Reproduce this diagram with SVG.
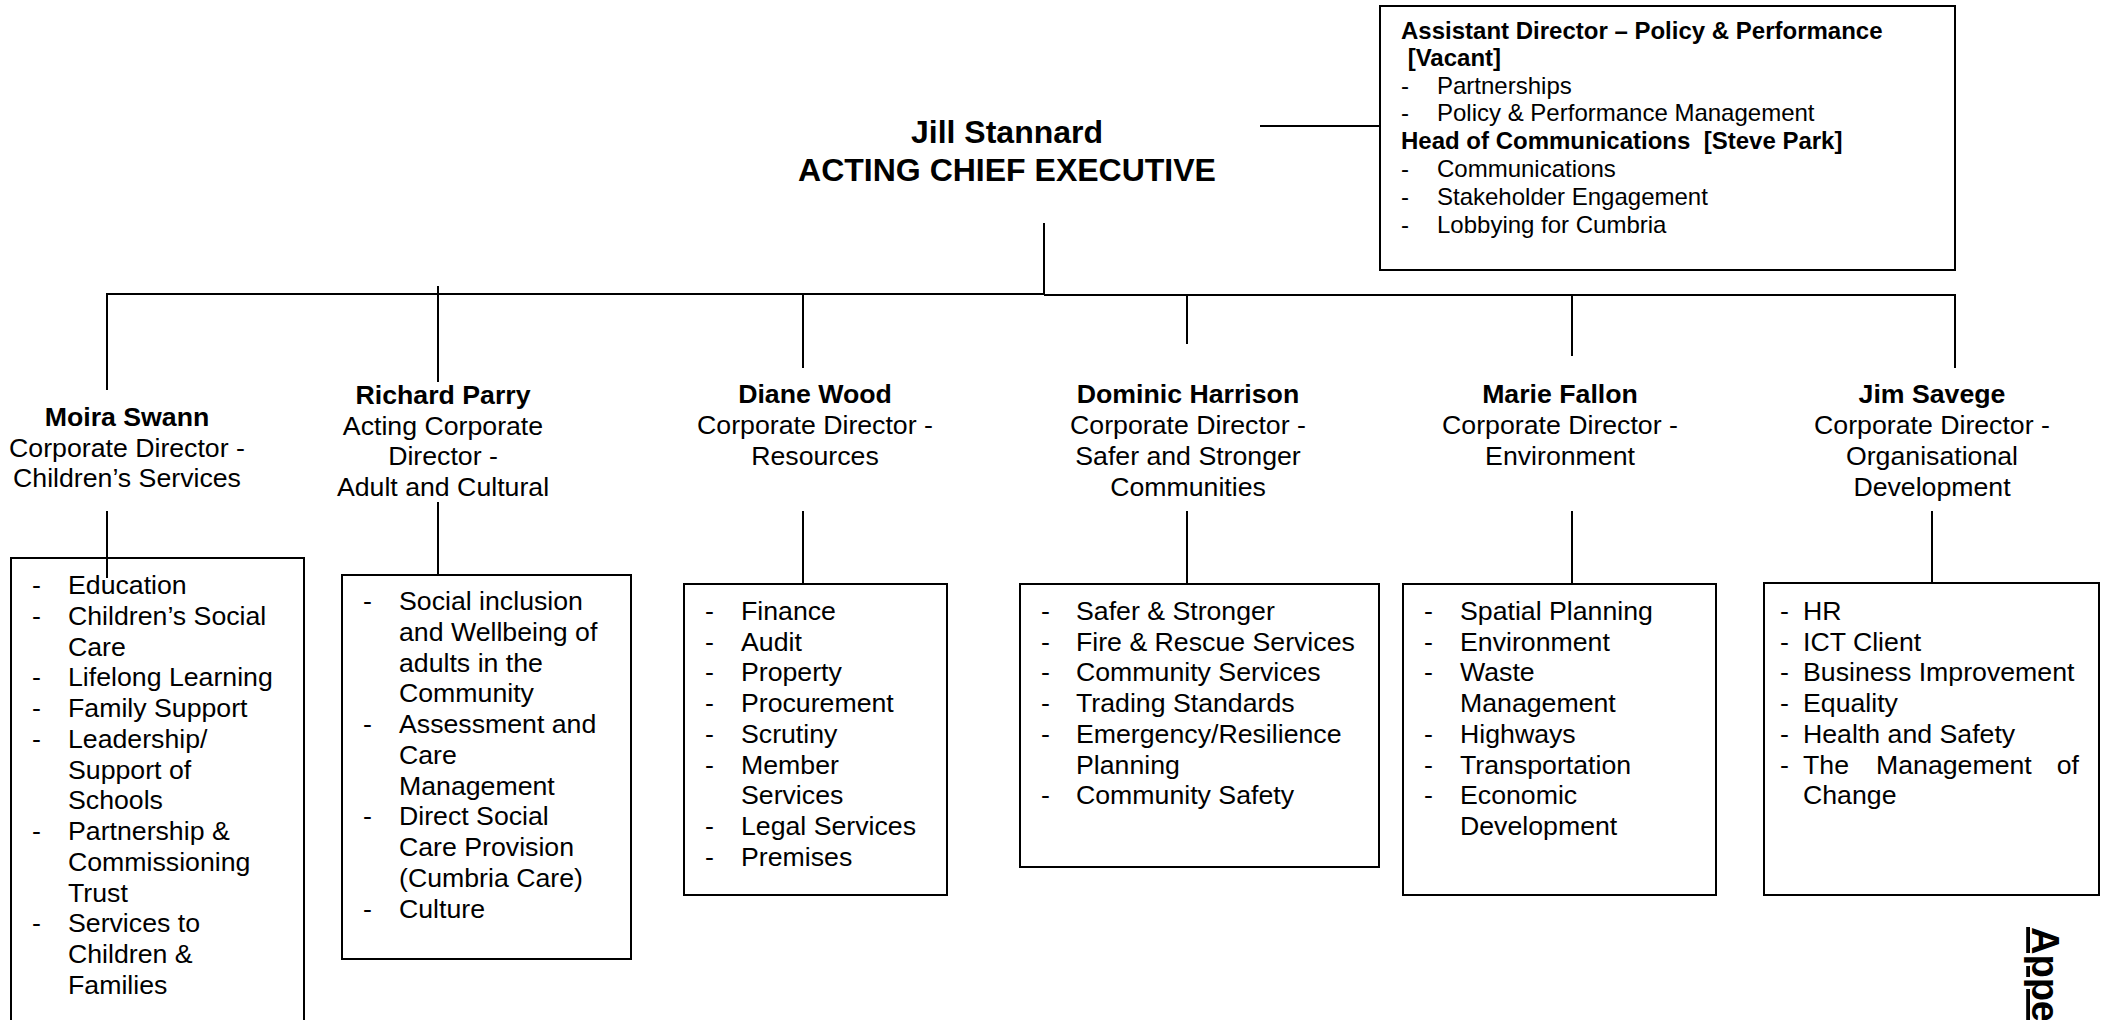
<svg xmlns="http://www.w3.org/2000/svg" width="2110" height="1020" viewBox="0 0 2110 1020">
  <style>
    .t { font-family: "Liberation Sans", Arial, sans-serif; font-size: 26.7px; fill: #000; }
    .b { font-weight: bold; }
    .ttl { font-family: "Liberation Sans", Arial, sans-serif; font-size: 32px; font-weight: bold; fill: #000; }
    .s { font-family: "Liberation Sans", Arial, sans-serif; font-size: 24px; fill: #000; white-space: pre; }
    .c { text-anchor: middle; }
    .box { fill: #fff; stroke: #000; stroke-width: 2; }
    .ln { stroke: #000; stroke-width: 2; fill: none; }
  </style>

  <rect width="2110" height="1020" fill="#fff"/>

  <!-- Chief executive -->
  <g id="chief-executive">
    <text class="ttl c" x="1007" y="143">Jill Stannard</text>
    <text class="ttl c" x="1007" y="181">ACTING CHIEF EXECUTIVE</text>
  </g>

  <!-- Policy, performance and communications support -->
  <g id="policy-performance">
    <rect class="box" x="1380" y="6" width="575" height="264"/>
    <text class="s b" x="1401" y="38.5">Assistant Director – Policy &amp; Performance</text>
    <text class="s b" x="1401" y="66"> [Vacant]</text>
    <text class="s" x="1401" y="93.5">-</text><text class="s" x="1437" y="93.5">Partnerships</text>
    <text class="s" x="1401" y="121">-</text><text class="s" x="1437" y="121">Policy &amp; Performance Management</text>
    <text class="s b" x="1401" y="148.5">Head of Communications  [Steve Park]</text>
    <text class="s" x="1401" y="176.5">-</text><text class="s" x="1437" y="176.5">Communications</text>
    <text class="s" x="1401" y="204.5">-</text><text class="s" x="1437" y="204.5">Stakeholder Engagement</text>
    <text class="s" x="1401" y="232.5">-</text><text class="s" x="1437" y="232.5">Lobbying for Cumbria</text>
  </g>

  <!-- Children's Services -->
  <g id="childrens-services">
    <text class="t b c" x="127" y="426">Moira Swann</text>
    <text class="t c" x="127" y="456.5">Corporate Director -</text>
    <text class="t c" x="127" y="487">Children’s Services</text>
    <rect class="box" x="11" y="558" width="293" height="480"/>
    <g class="t">
      <text x="32" y="594">-</text><text x="68" y="594">Education</text>
      <text x="32" y="624.75">-</text><text x="68" y="624.75">Children’s Social</text>
      <text x="68" y="655.5">Care</text>
      <text x="32" y="686.25">-</text><text x="68" y="686.25">Lifelong Learning</text>
      <text x="32" y="717">-</text><text x="68" y="717">Family Support</text>
      <text x="32" y="747.75">-</text><text x="68" y="747.75">Leadership/</text>
      <text x="68" y="778.5">Support of</text>
      <text x="68" y="809.25">Schools</text>
      <text x="32" y="840">-</text><text x="68" y="840">Partnership &amp;</text>
      <text x="68" y="870.75">Commissioning</text>
      <text x="68" y="901.5">Trust</text>
      <text x="32" y="932.25">-</text><text x="68" y="932.25">Services to</text>
      <text x="68" y="963">Children &amp;</text>
      <text x="68" y="993.75">Families</text>
    </g>
  </g>

  <!-- Adult and Cultural -->
  <g id="adult-and-cultural">
    <text class="t b c" x="443" y="404">Richard Parry</text>
    <text class="t c" x="443" y="434.5">Acting Corporate</text>
    <text class="t c" x="443" y="465">Director -</text>
    <text class="t c" x="443" y="495.5">Adult and Cultural</text>
    <rect class="box" x="342" y="575" width="289" height="384"/>
    <g class="t">
      <text x="363" y="610">-</text><text x="399" y="610">Social inclusion</text>
      <text x="399" y="640.75">and Wellbeing of</text>
      <text x="399" y="671.5">adults in the</text>
      <text x="399" y="702.25">Community</text>
      <text x="363" y="733">-</text><text x="399" y="733">Assessment and</text>
      <text x="399" y="763.75">Care</text>
      <text x="399" y="794.5">Management</text>
      <text x="363" y="825.25">-</text><text x="399" y="825.25">Direct Social</text>
      <text x="399" y="856">Care Provision</text>
      <text x="399" y="886.75">(Cumbria Care)</text>
      <text x="363" y="917.5">-</text><text x="399" y="917.5">Culture</text>
    </g>
  </g>

  <!-- Resources -->
  <g id="resources">
    <text class="t b c" x="815" y="403">Diane Wood</text>
    <text class="t c" x="815" y="434">Corporate Director -</text>
    <text class="t c" x="815" y="465">Resources</text>
    <rect class="box" x="684" y="584" width="263" height="311"/>
    <g class="t">
      <text x="705" y="620">-</text><text x="741" y="620">Finance</text>
      <text x="705" y="650.7">-</text><text x="741" y="650.7">Audit</text>
      <text x="705" y="681.4">-</text><text x="741" y="681.4">Property</text>
      <text x="705" y="712.1">-</text><text x="741" y="712.1">Procurement</text>
      <text x="705" y="742.8">-</text><text x="741" y="742.8">Scrutiny</text>
      <text x="705" y="773.5">-</text><text x="741" y="773.5">Member</text>
      <text x="741" y="804.2">Services</text>
      <text x="705" y="834.9">-</text><text x="741" y="834.9">Legal Services</text>
      <text x="705" y="865.6">-</text><text x="741" y="865.6">Premises</text>
    </g>
  </g>

  <!-- Safer and Stronger Communities -->
  <g id="safer-stronger-communities">
    <text class="t b c" x="1188" y="403">Dominic Harrison</text>
    <text class="t c" x="1188" y="434">Corporate Director -</text>
    <text class="t c" x="1188" y="465">Safer and Stronger</text>
    <text class="t c" x="1188" y="496">Communities</text>
    <rect class="box" x="1020" y="584" width="359" height="283"/>
    <g class="t">
      <text x="1041" y="620">-</text><text x="1076" y="620">Safer &amp; Stronger</text>
      <text x="1041" y="650.7">-</text><text x="1076" y="650.7">Fire &amp; Rescue Services</text>
      <text x="1041" y="681.4">-</text><text x="1076" y="681.4">Community Services</text>
      <text x="1041" y="712.1">-</text><text x="1076" y="712.1">Trading Standards</text>
      <text x="1041" y="742.8">-</text><text x="1076" y="742.8">Emergency/Resilience</text>
      <text x="1076" y="773.5">Planning</text>
      <text x="1041" y="804.2">-</text><text x="1076" y="804.2">Community Safety</text>
    </g>
  </g>

  <!-- Environment -->
  <g id="environment">
    <text class="t b c" x="1560" y="403">Marie Fallon</text>
    <text class="t c" x="1560" y="434">Corporate Director -</text>
    <text class="t c" x="1560" y="465">Environment</text>
    <rect class="box" x="1403" y="584" width="313" height="311"/>
    <g class="t">
      <text x="1424" y="620">-</text><text x="1460" y="620">Spatial Planning</text>
      <text x="1424" y="650.7">-</text><text x="1460" y="650.7">Environment</text>
      <text x="1424" y="681.4">-</text><text x="1460" y="681.4">Waste</text>
      <text x="1460" y="712.1">Management</text>
      <text x="1424" y="742.8">-</text><text x="1460" y="742.8">Highways</text>
      <text x="1424" y="773.5">-</text><text x="1460" y="773.5">Transportation</text>
      <text x="1424" y="804.2">-</text><text x="1460" y="804.2">Economic</text>
      <text x="1460" y="834.9">Development</text>
    </g>
  </g>

  <!-- Organisational Development -->
  <g id="organisational-development">
    <text class="t b c" x="1932" y="403">Jim Savege</text>
    <text class="t c" x="1932" y="434">Corporate Director -</text>
    <text class="t c" x="1932" y="465">Organisational</text>
    <text class="t c" x="1932" y="496">Development</text>
    <rect class="box" x="1764" y="583" width="335" height="312"/>
    <g class="t">
      <text x="1780" y="620">-</text><text x="1803" y="620">HR</text>
      <text x="1780" y="650.7">-</text><text x="1803" y="650.7">ICT Client</text>
      <text x="1780" y="681.4">-</text><text x="1803" y="681.4">Business Improvement</text>
      <text x="1780" y="712.1">-</text><text x="1803" y="712.1">Equality</text>
      <text x="1780" y="742.8">-</text><text x="1803" y="742.8">Health and Safety</text>
      <text x="1780" y="773.5">-</text>
      <text x="1803" y="773.5">The</text>
      <text x="1876" y="773.5">Management</text>
      <text x="2079" y="773.5" text-anchor="end">of</text>
      <text x="1803" y="804.2">Change</text>
    </g>
  </g>

  <!-- Reporting lines -->
  <g id="connectors" class="ln">
    <line x1="1260" y1="126" x2="1380" y2="126"/>
    <line x1="1044" y1="223" x2="1044" y2="294"/>
    <line x1="106" y1="294" x2="1044" y2="294"/>
    <line x1="1044" y1="295" x2="1955" y2="295"/>
    <line x1="107" y1="293" x2="107" y2="390"/>
    <line x1="438" y1="286" x2="438" y2="382"/>
    <line x1="803" y1="294" x2="803" y2="368"/>
    <line x1="1187" y1="294" x2="1187" y2="344"/>
    <line x1="1572" y1="294" x2="1572" y2="356"/>
    <line x1="1955" y1="294" x2="1955" y2="368"/>
    <line x1="107" y1="511" x2="107" y2="578"/>
    <line x1="438" y1="502" x2="438" y2="575"/>
    <line x1="803" y1="511" x2="803" y2="584"/>
    <line x1="1187" y1="511" x2="1187" y2="584"/>
    <line x1="1572" y1="511" x2="1572" y2="584"/>
    <line x1="1932" y1="511" x2="1932" y2="583"/>
  </g>

  <!-- Page label running down the right margin -->
  <text x="0" y="0" transform="translate(2032 927) rotate(90)" font-family="Liberation Sans, Arial, sans-serif" font-weight="bold" font-size="38" text-decoration="underline">Appe</text>
</svg>
